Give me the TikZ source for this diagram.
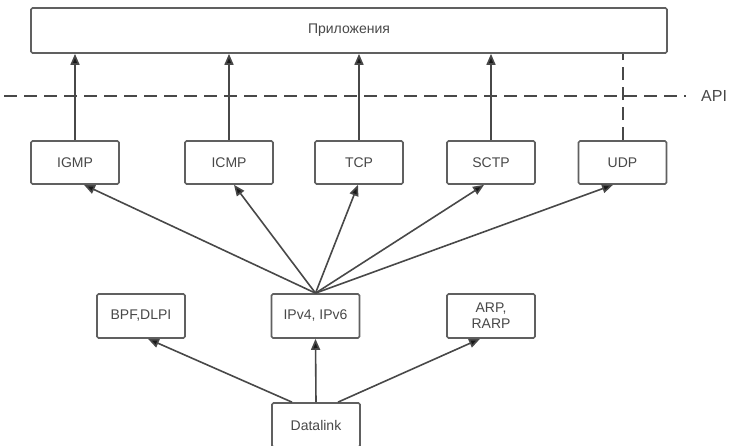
\documentclass[tikz,border=0pt]{standalone}
\usepackage{fontspec}
\setmainfont{Liberation Sans}
\usetikzlibrary{arrows.meta,calc}
\definecolor{edgegray}{HTML}{606060}
\definecolor{linegray}{HTML}{484848}
\definecolor{textgray}{HTML}{484848}
\begin{document}
\begin{tikzpicture}[x=1pt,y=-1pt,
  box/.style={draw=edgegray,line width=1.7pt,rounded corners=1.5pt,fill=white,
    minimum width=88pt,minimum height=43pt,inner sep=2pt,align=center,
    text=textgray,font=\fontsize{14}{16}\selectfont},
  link/.style={draw=linegray,line width=1.6pt,-{Triangle[length=11pt,width=9pt,fill=black!90]}},
  apiline/.style={draw=linegray,line width=1.9pt,dash pattern=on 13pt off 7pt}]
\useasboundingbox (0,0) rectangle (732,446);

% application layer
\node[box,minimum width=636pt,minimum height=45pt] (app) at (349,30.5) {Приложения};

% transport and control protocols
\node[box] (igmp) at (75,162.5) {IGMP};
\node[box] (icmp) at (229,162.5) {ICMP};
\node[box] (tcp) at (359,162.5) {TCP};
\node[box] (sctp) at (491,162.5) {SCTP};
\node[box] (udp) at (622.5,162.5) {UDP};

% network layer
\node[box,minimum height=44pt] (bpf) at (141,316) {BPF,DLPI};
\node[box,minimum height=44pt] (ip) at (315.5,316) {IPv4, IPv6};
\node[box,minimum height=44pt] (arp) at (491,316) {ARP,\\RARP};

% link layer
\node[box,minimum height=44pt] (dl) at (316,425) {Datalink};

% API boundary
\coordinate (apiL) at (4,96);
\coordinate (apiR) at (686,96);
\draw[apiline] (apiL) -- (apiR);
\node[anchor=west,text=textgray,font=\fontsize{16}{18}\selectfont,inner sep=0pt] (api) at (701,96) {API};

% protocols up to the applications
\draw[link] (igmp.north) -- (igmp.north |- app.south);
\draw[link] (icmp.north) -- (icmp.north |- app.south);
\draw[link] (tcp.north) -- (tcp.north |- app.south);
\draw[link] (sctp.north) -- (sctp.north |- app.south);
\draw[apiline,line width=2pt] (udp.north) -- (udp.north |- app.south);

% IP up to the protocols
\draw[link] (ip.north) -- ($(igmp.south)+(9,0)$);
\draw[link] (ip.north) -- ($(icmp.south)+(5,0)$);
\draw[link] (ip.north) -- ($(tcp.south)+(-1,0)$);
\draw[link] (ip.north) -- ($(sctp.south)+(-7,0)$);
\draw[link] (ip.north) -- ($(udp.south)+(-9.5,0)$);

% datalink up to the network layer
\draw[link] ($(dl.north)+(-24,0)$) -- ($(bpf.south)+(7,0)$);
\draw[link] (dl.north) -- (ip.south);
\draw[link] ($(dl.north)+(22,0)$) -- ($(arp.south)+(-11,0)$);
\end{tikzpicture}
\end{document}
